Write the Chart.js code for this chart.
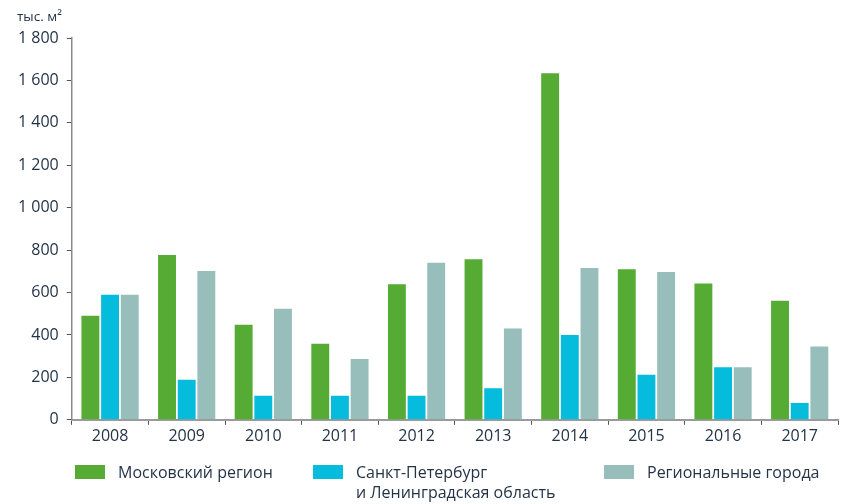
<!DOCTYPE html>
<html lang="ru">
<head>
<meta charset="utf-8">
<script src="https://cdn.jsdelivr.net/npm/chart.js@4/dist/chart.umd.min.js"></script>
<style>
  html, body { margin: 0; padding: 0; background: #fff; }
  #wrap { position: relative; width: 848px; height: 504px; font-family: "Open Sans", sans-serif; }
  #unit { position: absolute; left: 17px; top: 7px; font-size: 13.5px; color: #243447; }
  #legend { position: absolute; left: 0; top: 0; width: 848px; height: 504px; pointer-events: none; }
  .item { position: absolute; display: flex; align-items: flex-start; font-size: 16px; color: #243447; line-height: 20px; }
  .box { width: 30px; height: 14px; margin-right: 13px; margin-top: 3px; flex: none; }
</style>
</head>
<body>
<div id="wrap">
  <canvas id="myChart" width="848" height="504"></canvas>
  <div id="unit">тыс. м²</div>
  <div id="legend"></div>
</div>
<script>
// Годы и значения (тыс. м²)
const years = ['2008', '2009', '2010', '2011', '2012', '2013', '2014', '2015', '2016', '2017'];
const moscow = [490, 777, 448, 358, 639, 757, 1634, 710, 642, 561];
const spb = [589, 189, 113, 113, 113, 149, 400, 212, 248, 79];
const regions = [589, 702, 523, 287, 740, 430, 716, 697, 248, 345];

const seriesNames = ['Московский регион', ['Санкт-Петербург', 'и Ленинградская область'], 'Региональные города'];
const seriesColors = ['#55ab33', '#05bcdc', '#97beba'];
const legendPos = [{ x: 75, y: 462 }, { x: 313, y: 462 }, { x: 604, y: 462 }];

const textColor = '#243447';

function fmt(v) {
    return String(v).replace(/\B(?=(\d{3})+(?!\d))/g, ' ');
}

const ctx = document.getElementById('myChart').getContext('2d');
const chart = new Chart(ctx, {
    type: 'bar',
    data: {
        labels: years,
        datasets: [moscow, spb, regions].map((d, i) => ({
            label: Array.isArray(seriesNames[i]) ? seriesNames[i].join(' ') : seriesNames[i],
            data: d,
            backgroundColor: seriesColors[i],
            borderWidth: 0,
            barPercentage: 0.91,
            categoryPercentage: 0.77
        }))
    },
    options: {
        responsive: false,
        animation: false,
        layout: { padding: { top: 38, right: 10, bottom: 56, left: 10 } },
        plugins: {
            legend: { display: false },
            tooltip: { enabled: false }
        },
        scales: {
            x: {
                grid: { display: true, drawOnChartArea: false, tickLength: 5, color: '#555', tickWidth: 1 },
                border: { color: '#9a9a9a', width: 2 },
                ticks: { color: textColor, font: { family: 'Open Sans', size: 16 }, padding: 2 }
            },
            y: {
                min: 0, max: 1800,
                grid: { display: true, drawOnChartArea: false, tickLength: 5, color: '#555', tickWidth: 1 },
                border: { color: '#8a8a8a', width: 1.5 },
                ticks: {
                    stepSize: 200,
                    color: textColor,
                    font: { family: 'Open Sans', size: 16 },
                    padding: 8,
                    callback: v => fmt(v)
                }
            }
        }
    }
});

// HTML-легенда
const legend = document.getElementById('legend');
seriesNames.forEach((name, i) => {
    const item = document.createElement('div');
    item.className = 'item';
    item.style.left = legendPos[i].x + 'px';
    item.style.top = legendPos[i].y + 'px';
    const box = document.createElement('div');
    box.className = 'box';
    box.style.background = seriesColors[i];
    const txt = document.createElement('div');
    txt.innerHTML = Array.isArray(name) ? name.join('<br>') : name;
    item.appendChild(box);
    item.appendChild(txt);
    legend.appendChild(item);
});
</script>
</body>
</html>
